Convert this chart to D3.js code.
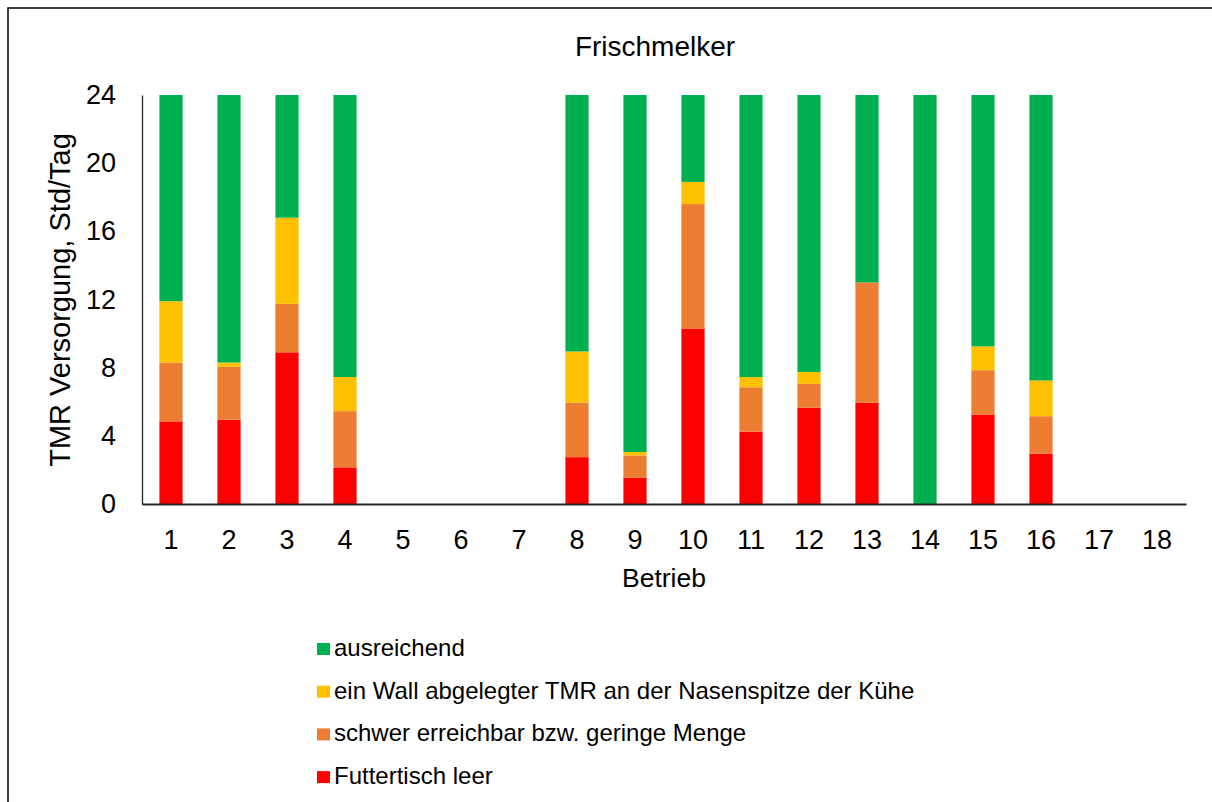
<!DOCTYPE html>
<html>
<head>
<meta charset="utf-8">
<script src="https://cdn.jsdelivr.net/npm/d3@7"></script>
<style>
  body { margin: 0; background: #fff; }
  svg { display: block; font-family: "Liberation Sans", Arial, sans-serif; }
</style>
</head>
<body>
<div class="chart"></div>
<script>
var betriebe = ["1","2","3","4","5","6","7","8","9","10","11","12","13","14","15","16","17","18"];

var leer     = [4.85, 4.95, 8.9, 2.15, 0, 0, 0, 2.75, 1.55, 10.3, 4.25, 5.65, 5.95, 0, 5.25, 2.95, 0, 0];
var schwer   = [3.45, 3.1, 2.85, 3.3, 0, 0, 0, 3.2, 1.3, 7.3, 2.6, 1.4, 7.05, 0, 2.6, 2.2, 0, 0];
var wall     = [3.6, 0.25, 5.05, 2.0, 0, 0, 0, 3.0, 0.2, 1.3, 0.6, 0.7, 0, 0, 1.4, 2.1, 0, 0];
var ausreich = [12.1, 15.7, 7.2, 16.55, 0, 0, 0, 15.05, 20.95, 5.1, 16.55, 16.25, 11.0, 24, 14.75, 16.75, 0, 0];

var yTicks = [0, 4, 8, 12, 16, 20, 24];

var serien = ["leer", "schwer", "wall", "ausreich"];
var namen = {
  ausreich: "ausreichend",
  wall: "ein Wall abgelegter TMR an der Nasenspitze der Kühe",
  schwer: "schwer erreichbar bzw. geringe Menge",
  leer: "Futtertisch leer"
};
var farben = { leer: "#ff0000", schwer: "#ed7d31", wall: "#ffc000", ausreich: "#00b050" };

// build rows for the stack
var rows = betriebe.map(function(b, i) {
  return { betrieb: b, leer: leer[i], schwer: schwer[i], wall: wall[i], ausreich: ausreich[i] };
});

var svg = d3.select(".chart")
  .append("svg")
  .attr("width", 1212)
  .attr("height", 802);

// outer frame
svg.append("path")
  .attr("d", "M8,812 L8,8 L1220,8")
  .attr("fill", "none")
  .attr("stroke", "#000")
  .attr("stroke-width", 1.5);

var x = d3.scaleBand()
  .domain(betriebe)
  .range([142, 1186])
  .paddingInner(0.6)
  .paddingOuter(0.3);

var y = d3.scaleLinear()
  .domain([0, 24])
  .range([504, 95]);

var stack = d3.stack().keys(serien)(rows);

svg.append("g")
  .selectAll("g")
  .data(stack)
  .enter()
  .append("g")
    .attr("fill", function(d) { return farben[d.key]; })
  .selectAll("rect")
  .data(function(d) { return d; })
  .enter()
  .append("rect")
    .attr("x", function(d) { return x(d.data.betrieb); })
    .attr("width", x.bandwidth())
    .attr("y", function(d) { return y(d[1]); })
    .attr("height", function(d) { return y(d[0]) - y(d[1]); });

// y axis
var yAxis = svg.append("g")
  .attr("transform", "translate(142,0)")
  .call(d3.axisLeft(y).tickValues(yTicks).tickSize(0).tickPadding(26));
yAxis.select(".domain").attr("stroke", "#262626").attr("stroke-width", 1.3);
yAxis.selectAll("text").attr("font-size", "27px").attr("fill", "#000").attr("font-family", null);

// x axis
var xAxis = svg.append("g")
  .attr("transform", "translate(0,504)")
  .call(d3.axisBottom(x).tickSize(0).tickPadding(26));
xAxis.select(".domain").attr("stroke", "#262626").attr("stroke-width", 2);
xAxis.selectAll("text").attr("font-size", "27px").attr("fill", "#000").attr("font-family", null);

// titles
svg.append("text")
  .attr("x", 655)
  .attr("y", 56)
  .attr("text-anchor", "middle")
  .attr("font-size", "28px")
  .text("Frischmelker");

svg.append("text")
  .attr("x", 664)
  .attr("y", 587)
  .attr("text-anchor", "middle")
  .attr("font-size", "26.5px")
  .text("Betrieb");

svg.append("text")
  .attr("transform", "translate(70,300) rotate(-90)")
  .attr("text-anchor", "middle")
  .attr("font-size", "29px")
  .text("TMR Versorgung, Std/Tag");

// legend
var legende = svg.append("g")
  .selectAll("g")
  .data(serien.slice().reverse())
  .enter()
  .append("g")
  .attr("transform", function(d, i) { return "translate(317," + (656 + i * 42.7) + ")"; });

legende.append("rect")
  .attr("y", -13)
  .attr("width", 13)
  .attr("height", 12)
  .attr("fill", function(d) { return farben[d]; });

legende.append("text")
  .attr("x", 17)
  .attr("font-size", "24px")
  .text(function(d) { return namen[d]; });
</script>
</body>
</html>
